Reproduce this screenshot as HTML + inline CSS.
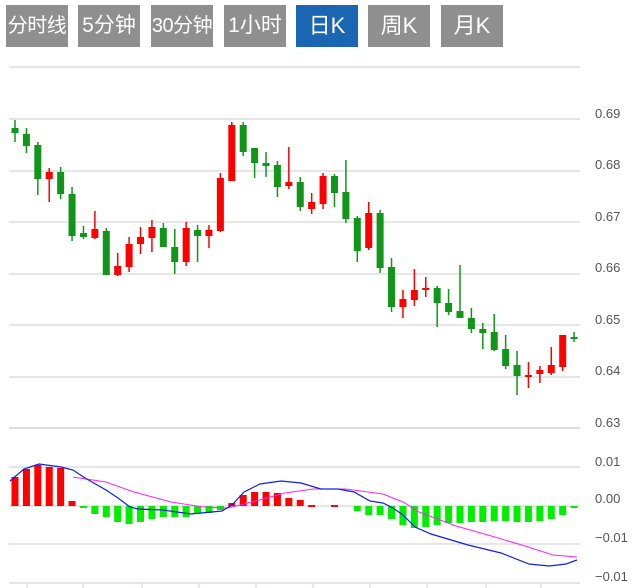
<!DOCTYPE html>
<html><head><meta charset="utf-8"><style>
body{margin:0;background:#fff;width:635px;height:588px;overflow:hidden;font-family:"Liberation Sans","Noto Sans CJK SC",sans-serif}
.tab{position:absolute;top:5px;height:42px;width:62px;background:#8f8f8f;color:#fff;font-size:22px;line-height:42px;text-align:center;white-space:nowrap;overflow:visible}
.sm{font-size:20px;letter-spacing:-0.5px}
.on{background:#1a66b3}
svg{position:absolute;left:0;top:0}
</style></head><body>
<div class="tab sm" style="left:6px">分时线</div>
<div class="tab" style="left:78px;font-size:21px">5分钟</div>
<div class="tab sm" style="left:151px">30分钟</div>
<div class="tab" style="left:224px;font-size:21px">1小时</div>
<div class="tab on" style="left:296px">日K</div>
<div class="tab" style="left:368px">周K</div>
<div class="tab" style="left:441px">月K</div>
<svg id="s" width="635" height="588" xmlns="http://www.w3.org/2000/svg">
<g stroke="#ddd" stroke-width="1.5">
<line x1="9" x2="580" y1="67" y2="67"/>
<line x1="9" x2="580" y1="119" y2="119"/>
<line x1="9" x2="580" y1="171" y2="171"/>
<line x1="9" x2="580" y1="222" y2="222"/>
<line x1="9" x2="580" y1="274" y2="274"/>
<line x1="9" x2="580" y1="325" y2="325"/>
<line x1="9" x2="580" y1="377" y2="377"/>
<line x1="9" x2="580" y1="428" y2="428" stroke-width="2"/>
<line x1="9" x2="580" y1="467" y2="467"/>
<line x1="9" x2="580" y1="506" y2="506"/>
<line x1="9" x2="580" y1="544" y2="544"/>
<line x1="9" x2="580" y1="583" y2="583"/>
</g>
<g stroke="#c8d4e8" stroke-width="1">
<line x1="27" x2="27" y1="583" y2="588"/><line x1="83" x2="83" y1="583" y2="588"/><line x1="142" x2="142" y1="583" y2="588"/><line x1="199" x2="199" y1="583" y2="588"/><line x1="256" x2="256" y1="583" y2="588"/><line x1="313" x2="313" y1="583" y2="588"/><line x1="370" x2="370" y1="583" y2="588"/><line x1="427" x2="427" y1="583" y2="588"/><line x1="486" x2="486" y1="583" y2="588"/><line x1="541" x2="541" y1="583" y2="588"/>
</g>
<g fill="#555" font-size="13" font-family="Liberation Sans, sans-serif">
<text x="595" y="118">0.69</text><text x="595" y="169">0.68</text><text x="595" y="221">0.67</text><text x="595" y="272">0.66</text><text x="595" y="324">0.65</text><text x="595" y="375">0.64</text><text x="595" y="427">0.63</text>
<text x="595" y="466">0.01</text><text x="595" y="503">0.00</text><text x="595" y="542">−0.01</text><text x="595" y="581">−0.01</text>
</g>
<g id="c"></g>
<polyline fill="none" stroke="#ff22ff" stroke-width="1" points="73,477 106,482 134,492 171,502 203,507 228,508 252,502 285,493 313,489 346,489 383,494 403,502 419,512 456,526 488,535 525,546 553,555 577,557"/>
<polyline fill="none" stroke="#1020e0" stroke-width="1.2" points="10,481 24,469 39,464 61,467 73,470 85,478 106,490 118,498 130,507 138,509 163,510 191,514 222,511 232,505 244,492 260,484 281,481 301,483 321,489 338,489 354,492 370,501 383,503 393,508 403,515 415,527 431,534 468,545 501,553 529,564 549,566 566,564 577,560"/>
</svg>
<script>
var C=[['g',128,133,120,142],['g',134,146,128,153],['g',145,179,142,195],['r',172,179,168,202],['g',172,194,167,199],['g',194,236,187,241],['g',233,237,226,239],['r',229,238,211,239],['g',231,275,228,275],['r',266,275,253,276],['r',244,267,237,272],['r',237,244,227,254],['r',227,238,220,252],['g',228,247,223,247],['g',247,262,229,274],['r',228,262,222,266],['g',230,236,225,262],['r',230,236,225,248],['r',178,231,173,232],['r',125,181,122,181],['g',125,152,122,156],['g',148,163,148,178],['g',163,166,152,177],['g',165,187,161,197],['r',182,186,147,189],['g',182,207,177,211],['r',202,209,193,214],['r',176,204,173,209],['g',176,193,174,207],['g',192,219,160,223],['g',218,251,216,262],['r',213,248,202,250],['g',213,268,210,273],['g',267,307,258,312],['r',299,307,290,318],['r',290,300,269,306],['r',288,290,277,297],['g',288,303,286,327],['g',303,312,289,315],['g',311,318,265,318],['g',318,329,308,333],['g',329,333,323,349],['g',332,350,314,351],['g',349,366,335,369],['g',365,376,351,395],['r',375,377,362,388],['r',370,374,366,383],['r',365,373,347,375],['r',335,367,335,371],['g',337,339,332,342]];
var M=[477,469,465,467,468,501,508,514,517,522,524,522,519,517,517,517,513,513,510,503,495,492,492,493,498,500,505,506,505,506,511,515,515,519,525,528,527,525,523,523,522,522,521,521,522,522,521,519,515,508];
var h='';
for(var i=0;i<50;i++){var x=15+i*11.41,c=C[i],col=c[0]=='r'?'#ff0000':'#11961a';
h+='<line x1="'+x+'" x2="'+x+'" y1="'+c[3]+'" y2="'+c[4]+'" stroke="'+col+'" stroke-width="1.5"/>';
h+='<rect x="'+(x-3.5)+'" y="'+c[1]+'" width="7" height="'+Math.max(2,c[2]-c[1])+'" fill="'+col+'"/>';
var v=M[i];if(Math.abs(v-506)>=1){var mc=v<506?'#ff0000':'#00ee00';h+='<rect x="'+(x-3.5)+'" y="'+Math.min(v,506)+'" width="7" height="'+Math.max(2,Math.abs(v-506))+'" fill="'+mc+'"/>';}}
document.getElementById('c').innerHTML=h;
</script>
</body></html>
